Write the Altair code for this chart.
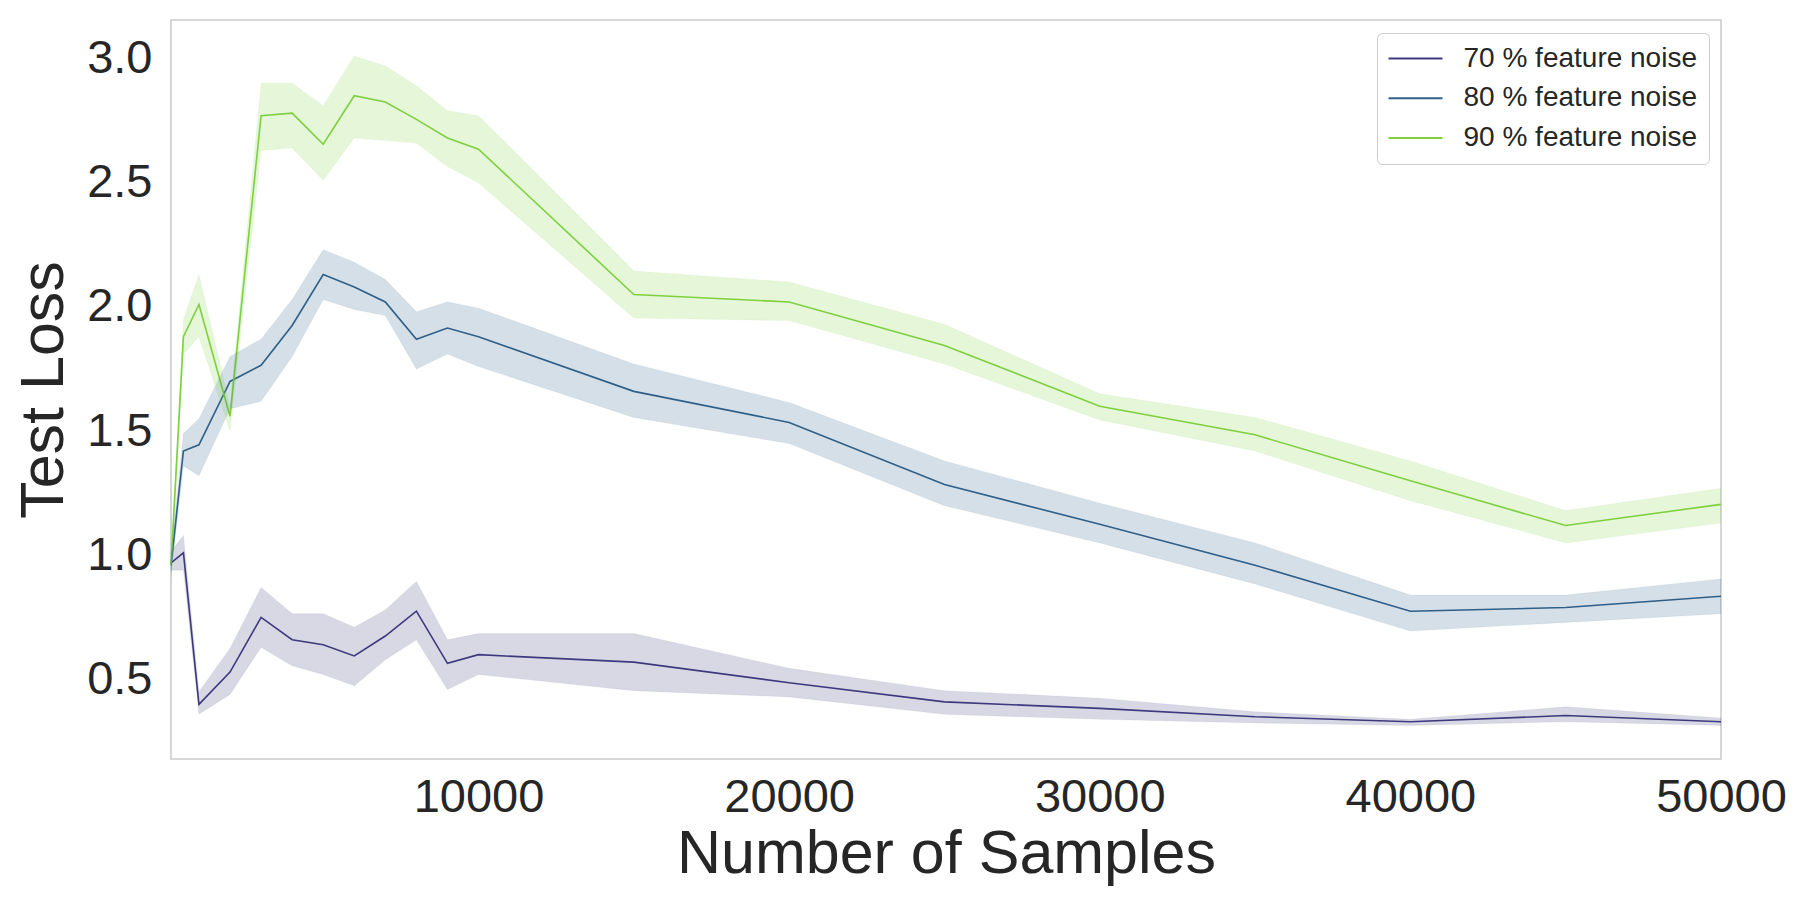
import altair as alt
import pandas as pd

x_vals = [100, 500, 1000, 2000, 3000, 4000, 5000, 6000, 7000, 8000, 9000, 10000,
          15000, 20000, 25000, 30000, 35000, 40000, 45000, 50000]

series_names = ["70 % feature noise", "80 % feature noise", "90 % feature noise"]
series_colors = ["#3d3a7e", "#2f6089", "#7fd03f"]

mean_70 = [0.97, 1.01, 0.40, 0.53, 0.75, 0.66, 0.64, 0.595, 0.675, 0.775, 0.565, 0.60,
           0.57, 0.487, 0.41, 0.384, 0.35, 0.33, 0.355, 0.33]
lo_70 = [0.94, 0.94, 0.36, 0.44, 0.63, 0.555, 0.52, 0.475, 0.58, 0.66, 0.46, 0.52,
         0.455, 0.43, 0.36, 0.34, 0.325, 0.315, 0.33, 0.315]
hi_70 = [1.015, 1.08, 0.45, 0.625, 0.87, 0.765, 0.765, 0.71, 0.78, 0.895, 0.66, 0.685,
         0.685, 0.545, 0.455, 0.425, 0.37, 0.34, 0.39, 0.345]

mean_80 = [0.96, 1.42, 1.445, 1.70, 1.765, 1.925, 2.13, 2.08, 2.02, 1.87, 1.915, 1.88,
           1.66, 1.535, 1.285, 1.125, 0.96, 0.775, 0.79, 0.835]
lo_80 = [0.92, 1.36, 1.32, 1.59, 1.62, 1.80, 2.03, 1.99, 1.965, 1.75, 1.81, 1.76,
         1.555, 1.45, 1.20, 1.05, 0.885, 0.695, 0.73, 0.765]
hi_80 = [1.00, 1.49, 1.55, 1.80, 1.87, 2.03, 2.23, 2.18, 2.11, 1.98, 2.02, 1.995,
         1.77, 1.615, 1.38, 1.21, 1.05, 0.84, 0.84, 0.905]

mean_90 = [0.96, 1.88, 2.01, 1.56, 2.77, 2.78, 2.655, 2.85, 2.825, 2.755, 2.68, 2.635,
           2.05, 2.02, 1.845, 1.60, 1.485, 1.30, 1.12, 1.205]
lo_90 = [0.90, 1.81, 1.88, 1.50, 2.63, 2.64, 2.51, 2.68, 2.67, 2.66, 2.565, 2.50,
         1.955, 1.945, 1.77, 1.545, 1.42, 1.22, 1.05, 1.13]
hi_90 = [1.00, 1.95, 2.13, 1.60, 2.90, 2.90, 2.81, 3.01, 2.97, 2.89, 2.79, 2.77,
         2.145, 2.10, 1.93, 1.65, 1.555, 1.38, 1.18, 1.27]

x_ticks = [10000, 20000, 30000, 40000, 50000]
y_ticks = [0.5, 1.0, 1.5, 2.0, 2.5, 3.0]

rows = []
for name, col, m, lo, hi in zip(series_names, series_colors,
                                [mean_70, mean_80, mean_90],
                                [lo_70, lo_80, lo_90],
                                [hi_70, hi_80, hi_90]):
    for xv, mv, lv, hv in zip(x_vals, m, lo, hi):
        rows.append({"n": xv, "loss": mv, "lo": lv, "hi": hv, "series": name, "hex": col})
df = pd.DataFrame(rows)

FONT = "Liberation Sans"
TXT = "#262626"

x_enc = alt.X("n:Q", scale=alt.Scale(domain=[100, 50000], nice=False, zero=False),
              axis=alt.Axis(values=x_ticks, format="d", title="Number of Samples",
                            labelFontSize=47, titleFontSize=61, labelPadding=15,
                            titlePadding=4, labelFlush=False, labelOverlap=False))
y_enc = alt.Y("loss:Q", scale=alt.Scale(domain=[0.18, 3.155], nice=False, zero=False),
              axis=alt.Axis(values=y_ticks, format=".1f", title="Test Loss",
                            labelFontSize=47, titleFontSize=61, labelPadding=19,
                            titlePadding=11))

line = alt.Chart(df).mark_line(strokeWidth=1.6, opacity=1).encode(
    x=x_enc,
    y=y_enc,
    color=alt.Color("series:N",
                    scale=alt.Scale(domain=series_names, range=series_colors),
                    legend=alt.Legend(title=None, orient="none", legendX=1206, legendY=13,
                                      symbolType="M-2.7,0H2.7", symbolSize=400,
                                      symbolStrokeWidth=2.0, symbolOpacity=1,
                                      symbolOffset=13,
                                      labelFontSize=28, labelLimit=0,
                                      labelOffset=34, rowPadding=11.8, padding=11.5,
                                      fillColor="white", strokeColor="#cccccc",
                                      cornerRadius=5, labelColor=TXT, labelFont=FONT)),
)

band = alt.Chart(df).mark_area(fillOpacity=0.2, strokeWidth=1.2, strokeOpacity=0.05).encode(
    x=alt.X("n:Q"),
    y=alt.Y("lo:Q"),
    y2="hi:Q",
    fill=alt.Fill("hex:N", scale=None),
    stroke=alt.Stroke("hex:N", scale=None),
    detail="series:N",
)

chart = alt.layer(line, band).properties(
    width=1550, height=739,
    autosize=alt.AutoSizeParams(type="none"),
    padding={"left": 163, "top": 12, "right": 68, "bottom": 130},
    background="white",
).configure_view(
    stroke="#cccccc", strokeWidth=1.6
).configure_axis(
    grid=False, domain=False, ticks=False,
    labelFont=FONT, titleFont=FONT, labelColor=TXT, titleColor=TXT,
    titleFontWeight="normal",
).configure_legend(
    symbolOpacity=1
)

chart.save("out.html", embed_options={"renderer": "svg", "actions": False})
